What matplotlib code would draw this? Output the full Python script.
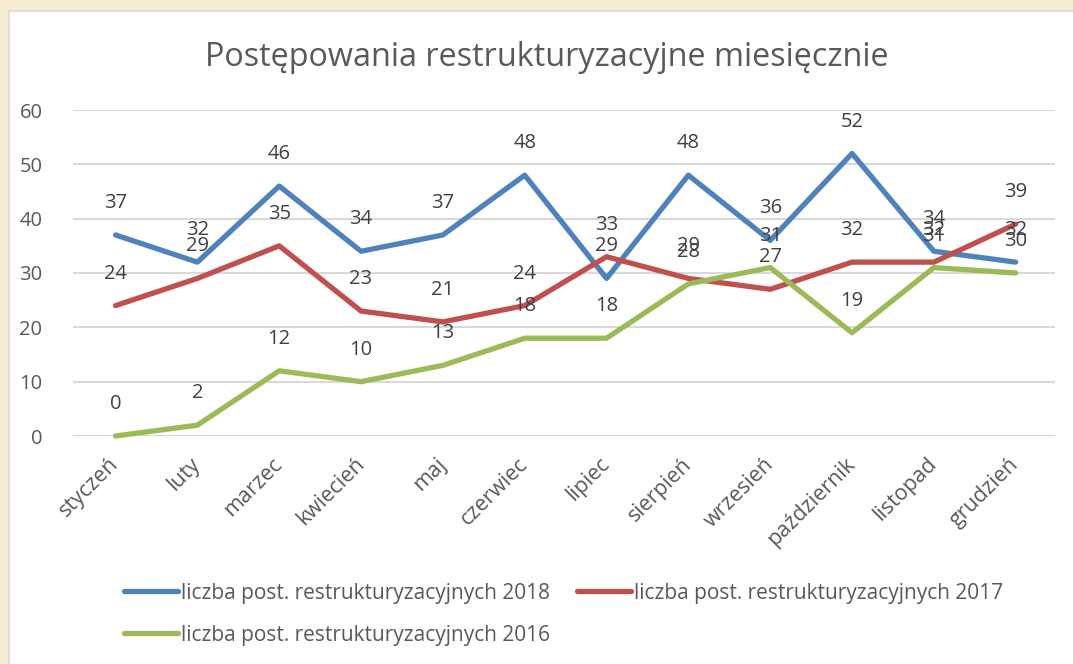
import matplotlib.pyplot as plt
from matplotlib.patches import Rectangle

plt.rcParams['font.family'] = ['Open Sans', 'DejaVu Sans']

months = ['styczeń', 'luty', 'marzec', 'kwiecień', 'maj', 'czerwiec', 'lipiec',
          'sierpień', 'wrzesień', 'październik', 'listopad', 'grudzień']
v2018 = [37, 32, 46, 34, 37, 48, 29, 48, 36, 52, 34, 32]
v2017 = [24, 29, 35, 23, 21, 24, 33, 29, 27, 32, 32, 39]
v2016 = [0, 2, 12, 10, 13, 18, 18, 28, 31, 19, 31, 30]
labels = ['liczba post. restrukturyzacyjnych 2018',
          'liczba post. restrukturyzacyjnych 2017',
          'liczba post. restrukturyzacyjnych 2016']
colors = ['#4F81BD', '#C0504D', '#9BBB59']
text_col = '#595959'

fig = plt.figure(figsize=(10.73, 6.64), dpi=100, facecolor='#F7EDD3')
# white chart area with thin grey border
fig.patches.append(Rectangle((9 / 1073, -0.01), 1.0, (664 - 11) / 664 + 0.01,
                             transform=fig.transFigure, facecolor='white',
                             edgecolor='#D9D9D9', lw=1.2, zorder=0))

ax = fig.add_axes([73 / 1073, 228 / 664, 982 / 1073, 326 / 664])
ax.set_zorder(2)
ax.set_facecolor('none')
x = range(len(months))
lines = []
for vals, c, lab in zip([v2018, v2017, v2016], colors, labels):
    ln, = ax.plot(x, vals, color=c, lw=3.8, solid_capstyle='round',
                  solid_joinstyle='round', label=lab, clip_on=False, zorder=3)
    lines.append(ln)
    for i, v in enumerate(vals):
        ax.annotate(str(v), (i, v), xytext=(0, 23), textcoords='offset points',
                    ha='center', va='center', fontsize=14.5, color='#404040', zorder=4)

ax.set_xlim(-0.52, 11.48)
ax.set_ylim(0, 60)
ax.set_yticks(range(0, 61, 10))
ax.grid(axis='y', color='#D9D9D9', lw=1.5)
ax.set_axisbelow(True)
for s in ax.spines.values():
    s.set_visible(False)
ax.tick_params(axis='both', length=0, colors=text_col, labelsize=14.5)
ax.tick_params(axis='y', pad=22)
ax.set_xticks(list(x))
ax.set_xticklabels(months, rotation=45, ha='right', va='center',
                   rotation_mode='anchor', fontsize=15.5)
ax.tick_params(axis='x', pad=18)

fig.text(0.51, 1 - 57 / 664, 'Postępowania restrukturyzacyjne miesięcznie',
         ha='center', va='center', fontsize=23.3, color=text_col)

leg = fig.legend([lines[0], lines[2], lines[1]], [labels[0], labels[2], labels[1]],
                 ncol=2, loc='upper left', bbox_to_anchor=(105 / 1073, 1 - 564 / 664),
                 frameon=False, fontsize=15, labelcolor=text_col, handlelength=2.6,
                 handletextpad=0.15, columnspacing=1.3, labelspacing=1.0)
leg.set_zorder(3)

fig.savefig('out.png', dpi=100, facecolor=fig.get_facecolor())
